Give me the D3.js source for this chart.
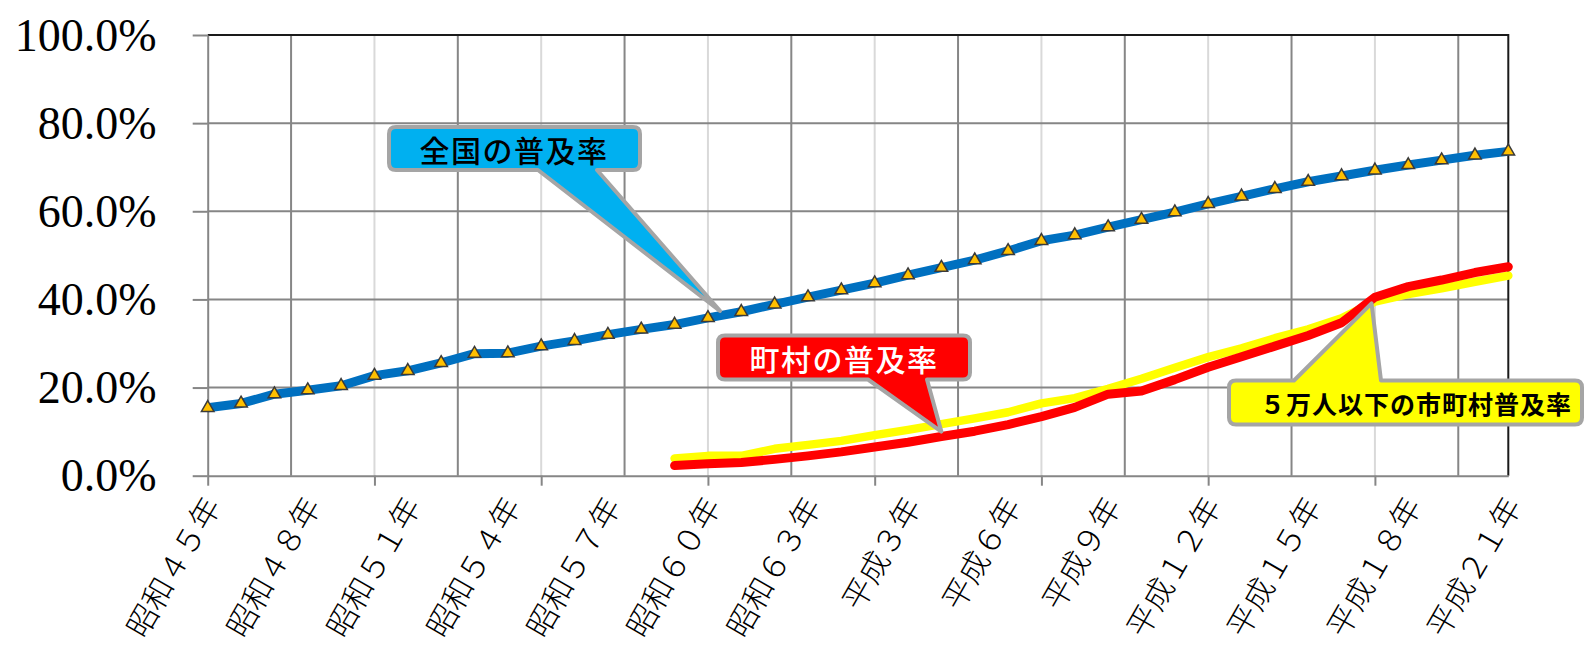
<!DOCTYPE html>
<html lang="ja">
<head>
<meta charset="utf-8">
<script src="https://cdn.jsdelivr.net/npm/d3@7"></script>
<style>
  html, body { margin: 0; padding: 0; background: #ffffff; }
  svg { display: block; }
</style>
</head>
<body>
<svg id="chart" width="1587" height="648"></svg>
<script>
// 年度（昭和45年＝1970年 〜 平成21年＝2009年）
const years = d3.range(1970, 2010);

// 全国の普及率（%）
const nationalRate = [
  15.4, 16.4, 18.5, 19.4, 20.4, 22.7, 23.8, 25.6, 27.7, 27.8,
  29.4, 30.6, 32.0, 33.2, 34.3, 35.8, 37.2, 38.9, 40.5, 42.1,
  43.7, 45.5, 47.2, 48.9, 51.0, 53.3, 54.6, 56.4, 58.1, 59.8,
  61.7, 63.4, 65.1, 66.7, 68.0, 69.3, 70.5, 71.6, 72.7, 73.6
];

// 町村・5万人以下の市町村の集計年度（昭和59年〜）
const localYears = d3.range(1984, 2010);

// 町村の普及率（%）
const townVillageRate = [
  2.3, 2.7, 3.0, 3.7, 4.5, 5.4, 6.5, 7.6, 8.9, 10.1,
  11.6, 13.4, 15.5, 18.5, 19.2, 21.8, 24.6, 27.0, 29.4, 31.8,
  34.7, 40.5, 42.9, 44.4, 46.1, 47.4
];

// 5万人以下の市町村の普及率（%）
const smallCityRate = [
  3.9, 4.5, 4.5, 6.1, 7.0, 7.9, 9.2, 10.4, 11.7, 13.0,
  14.4, 16.4, 17.6, 19.7, 22.0, 24.5, 26.9, 28.9, 31.2, 33.2,
  35.7, 39.5, 41.2, 42.5, 44.0, 45.4
];

// 横軸ラベル（3年おき）
const labelYears = d3.range(1970, 2010, 3);
const labelTexts = [
  "昭和４５年", "昭和４８年", "昭和５１年", "昭和５４年", "昭和５７年",
  "昭和６０年", "昭和６３年", "平成３年", "平成６年", "平成９年",
  "平成１２年", "平成１５年", "平成１８年", "平成２１年"
];

// 縦軸目盛り（%）
const yTickValues = [0, 20, 40, 60, 80, 100];

// 吹き出しの文言と指し示す点（年, %）
const calloutTexts = ["全国の普及率", "町村の普及率", "５万人以下の市町村普及率"];
const calloutTargets = [[1985.36, 37.4], [1992.0, 10.0], [2004.9, 39.1]];

// ---------------------------------------------------------------
const svg = d3.select("#chart");

const x = d3.scaleLinear().domain([1970, 2009]).range([207.7, 1508.3]);
const y = d3.scaleLinear().domain([0, 100]).range([475.7, 35]);

const gridDark = "#868686";
const gridLight = "#d9d9d9";

// 縦の補助線（5年ごと：薄色、その中間：濃色）
const grid = svg.append("g");
grid.selectAll("line.minor")
  .data(d3.range(1972.5, 2009, 5))
  .join("line")
  .attr("x1", d => x(d)).attr("x2", d => x(d))
  .attr("y1", y(100)).attr("y2", y(0))
  .attr("stroke", gridDark).attr("stroke-width", 2);
grid.selectAll("line.major")
  .data(d3.range(1975, 2009, 5))
  .join("line")
  .attr("x1", d => x(d)).attr("x2", d => x(d))
  .attr("y1", y(100)).attr("y2", y(0))
  .attr("stroke", gridLight).attr("stroke-width", 2);

// 横の補助線
grid.selectAll("line.h")
  .data(yTickValues.filter(v => v > 0 && v < 100))
  .join("line")
  .attr("x1", x(1970)).attr("x2", x(2009))
  .attr("y1", d => y(d)).attr("y2", d => y(d))
  .attr("stroke", gridDark).attr("stroke-width", 2);

// 枠（上・右）
svg.append("path")
  .attr("d", `M${x(1970)},${y(100)}H${x(2009)}V${y(0)}`)
  .attr("fill", "none").attr("stroke", "#1a1a1a").attr("stroke-width", 2);

// 縦軸
const yAxis = svg.append("g")
  .attr("transform", `translate(${x(1970)},0)`)
  .call(d3.axisLeft(y)
    .tickValues(yTickValues)
    .tickSize(15)
    .tickSizeOuter(0)
    .tickPadding(36)
    .tickFormat(d => d.toFixed(1) + "%"));
yAxis.select(".domain").attr("stroke", gridDark).attr("stroke-width", 2);
yAxis.selectAll(".tick line").attr("stroke", gridDark).attr("stroke-width", 2);
yAxis.selectAll(".tick text")
  .attr("font-family", "'Liberation Serif', 'DejaVu Serif', serif")
  .attr("font-size", 46)
  .attr("fill", "#000")
  .attr("dy", "0.33em");

// 横軸（目盛り線は5年ごと）
const xAxis = svg.append("g")
  .attr("transform", `translate(0,${y(0)})`)
  .call(d3.axisBottom(x)
    .tickValues(d3.range(1970, 2009, 5))
    .tickSize(10)
    .tickSizeOuter(0)
    .tickFormat(""));
xAxis.select(".domain").attr("stroke", gridDark).attr("stroke-width", 2);
xAxis.selectAll(".tick line").attr("stroke", gridDark).attr("stroke-width", 2);

// 横軸ラベル（3年おき、斜め表示）
const labelAxis = svg.append("g")
  .attr("transform", `translate(0,${y(0)})`)
  .call(d3.axisBottom(x)
    .tickValues(labelYears)
    .tickSize(0)
    .tickFormat((d, i) => labelTexts[i]));
labelAxis.select(".domain").remove();
labelAxis.selectAll(".tick text")
  .attr("y", 0)
  .attr("dy", null)
  .attr("transform", "translate(2,23) rotate(-60)")
  .attr("text-anchor", "end")
  .attr("dominant-baseline", "central")
  .attr("font-family", "'Noto Sans CJK JP', sans-serif")
  .attr("font-weight", 300)
  .attr("font-size", 31)
  .attr("fill", "#000");

// 系列線
const line = (xs) => d3.line().x((d, i) => x(xs[i])).y(d => y(d));

svg.append("path")
  .datum(smallCityRate)
  .attr("d", line(localYears))
  .attr("fill", "none").attr("stroke", "#ffff00")
  .attr("stroke-width", 8.5).attr("stroke-linejoin", "round").attr("stroke-linecap", "round");

svg.append("path")
  .datum(townVillageRate)
  .attr("d", line(localYears))
  .attr("fill", "none").attr("stroke", "#ff0000")
  .attr("stroke-width", 9).attr("stroke-linejoin", "round").attr("stroke-linecap", "round");

svg.append("path")
  .datum(nationalRate)
  .attr("d", line(years))
  .attr("fill", "none").attr("stroke", "#0070c0")
  .attr("stroke-width", 9).attr("stroke-linejoin", "round");

// 全国の普及率のマーカー（三角）
svg.append("g").selectAll("path")
  .data(nationalRate)
  .join("path")
  .attr("transform", (d, i) => `translate(${x(years[i])},${y(d)})`)
  .attr("d", d3.symbol(d3.symbolTriangle, 68))
  .attr("fill", "#ffc000")
  .attr("stroke", "#3a3a3a")
  .attr("stroke-width", 1.5)
  .attr("stroke-linejoin", "miter");

// 吹き出し
function calloutPath(x0, y0, x1, y1, r, side, b0, b1, tx, ty) {
  if (side === "bottom") {
    return `M${x0 + r},${y0}H${x1 - r}Q${x1},${y0} ${x1},${y0 + r}V${y1 - r}Q${x1},${y1} ${x1 - r},${y1}` +
      `H${b1}L${tx},${ty}L${b0},${y1}H${x0 + r}Q${x0},${y1} ${x0},${y1 - r}V${y0 + r}Q${x0},${y0} ${x0 + r},${y0}Z`;
  }
  return `M${x0 + r},${y0}H${b0}L${tx},${ty}L${b1},${y0}H${x1 - r}Q${x1},${y0} ${x1},${y0 + r}V${y1 - r}` +
    `Q${x1},${y1} ${x1 - r},${y1}H${x0 + r}Q${x0},${y1} ${x0},${y1 - r}V${y0 + r}Q${x0},${y0} ${x0 + r},${y0}Z`;
}

const callouts = [
  { box: [389, 127, 640, 170], side: "bottom", base: [538, 597], fill: "#00b0f0",
    textColor: "#000", size: 30, weight: 500, anchor: "middle", tx: 514, ty: 148.5, spacing: 1.5 },
  { box: [718, 335.5, 970, 379.5], side: "bottom", base: [868, 927], fill: "#ff0000",
    textColor: "#fff", size: 30, weight: 500, anchor: "middle", tx: 844, ty: 357.5, spacing: 1.5 },
  { box: [1229, 380.5, 1582, 424.5], side: "top", base: [1294, 1381], fill: "#ffff00",
    textColor: "#000", size: 25, weight: 700, anchor: "start", tx: 1260, ty: 403, spacing: 1 }
];

const cg = svg.append("g");
callouts.forEach((c, i) => {
  const [tx, ty] = calloutTargets[i];
  cg.append("path")
    .attr("d", calloutPath(c.box[0], c.box[1], c.box[2], c.box[3], 7, c.side,
      c.base[0], c.base[1], x(tx), y(ty)))
    .attr("fill", c.fill)
    .attr("stroke", "#a5a5a5")
    .attr("stroke-width", 4)
    .attr("stroke-linejoin", "round");
  cg.append("text")
    .attr("x", c.tx).attr("y", c.ty)
    .attr("text-anchor", c.anchor)
    .attr("dominant-baseline", "central")
    .attr("font-family", "'Noto Sans CJK JP', sans-serif")
    .attr("font-size", c.size)
    .attr("font-weight", c.weight)
    .attr("letter-spacing", c.spacing)
    .attr("fill", c.textColor)
    .text(calloutTexts[i]);
});
</script>
</body>
</html>
